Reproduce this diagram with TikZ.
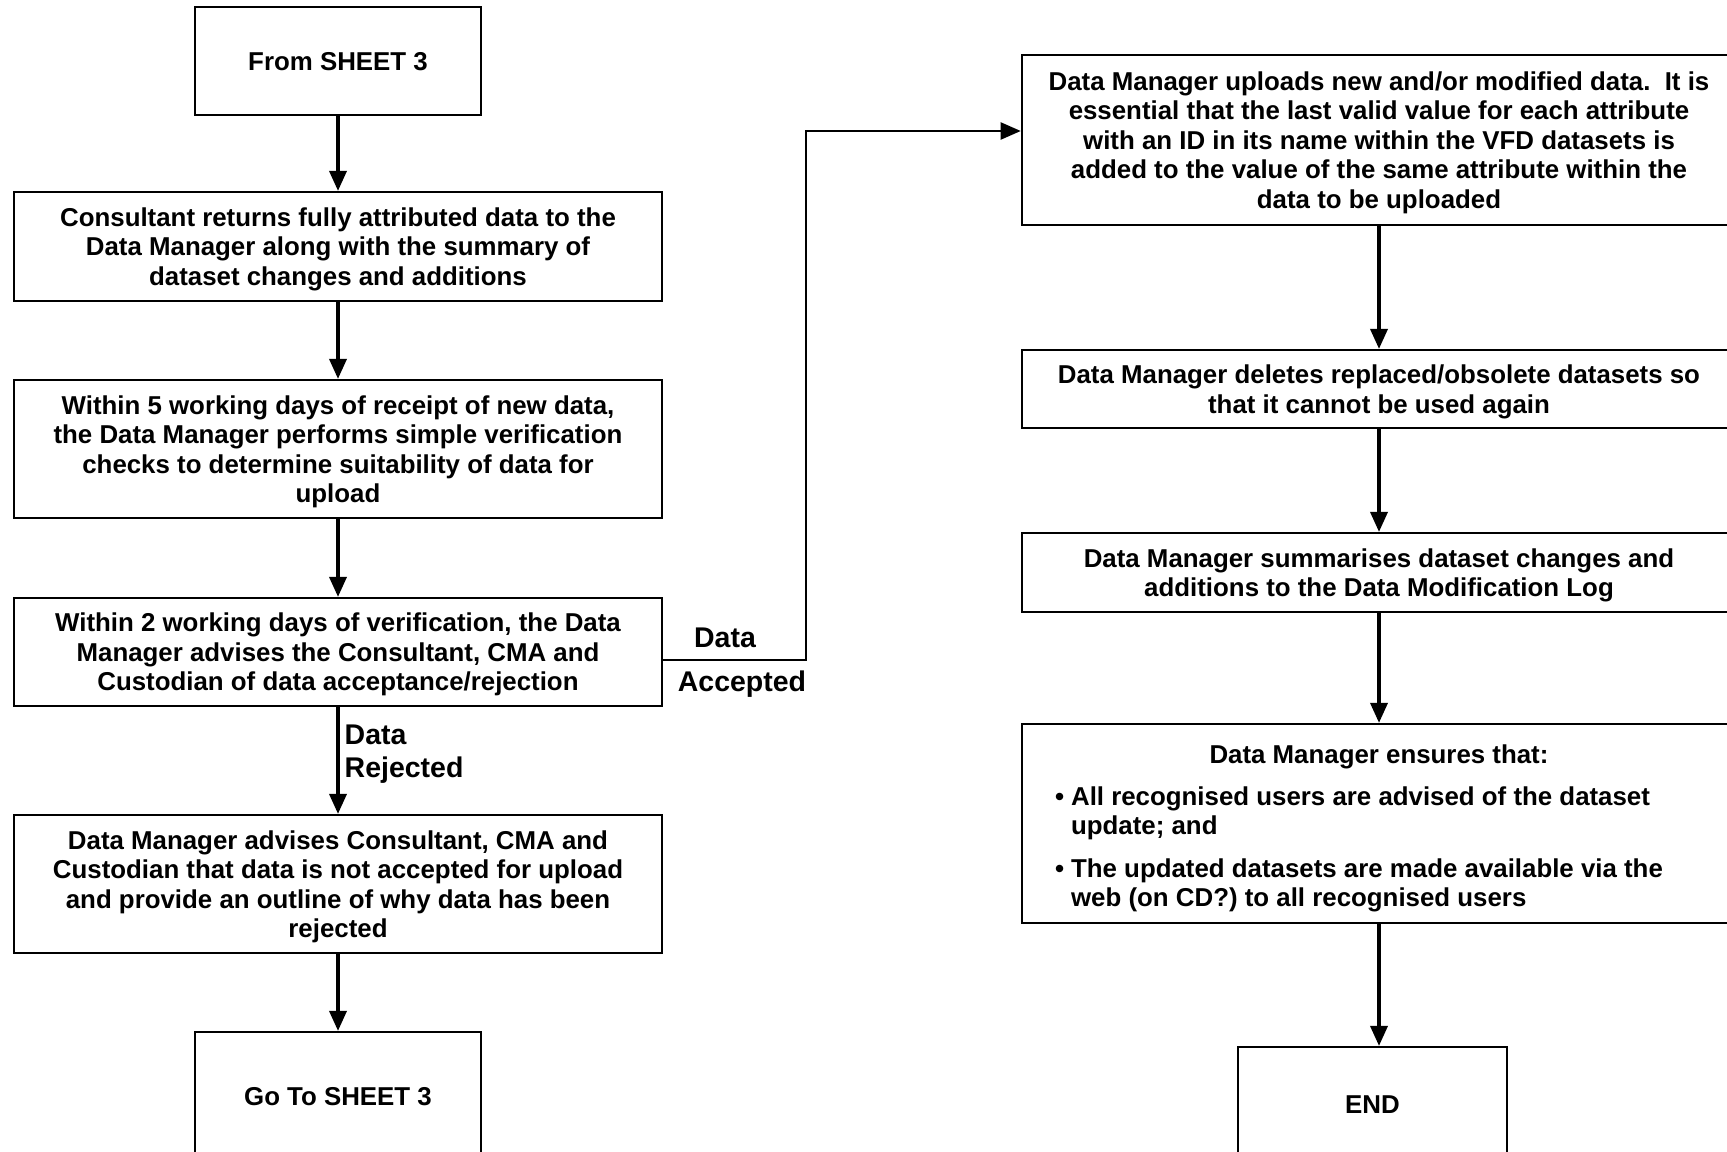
\documentclass[tikz,border=0pt]{standalone}
\usepackage{fontspec}
\setmainfont{Liberation Sans}
\usetikzlibrary{arrows.meta}
\newcommand{\boxstrut}{\rule[-1.55pt]{0pt}{8.4pt}}
\tikzstyle{proc}=[draw, line width=0.6pt, align=center, inner sep=0pt, font=\fontsize{7.35}{8.4}\selectfont\bfseries, execute at begin node=\boxstrut]
\tikzstyle{lproc}=[proc, minimum width=6.48cm, text depth=0pt]
\tikzstyle{rproc}=[proc, minimum width=7.14cm, text depth=0pt]
\tikzstyle{lstproc}=[proc, minimum width=7.14cm]
\tikzstyle{term}=[proc, minimum width=2.86cm]
\tikzstyle{flow}=[line width=1pt, -{Triangle[length=2mm,width=1.7mm]}]
\tikzstyle{branch}=[line width=0.6pt, -{Triangle[length=2mm,width=1.7mm]}]
\tikzstyle{blabel}=[inner sep=0pt, font=\fontsize{8.1}{9.4}\selectfont\bfseries]

\begin{document}
\begin{tikzpicture}[x=0.01cm, y=-0.01cm]
    \useasboundingbox (0,0) rectangle (1727,1152);
        \node[term, minimum height=1.08cm] (from) at (338, 61) {From SHEET 3};
        \node[lproc, minimum height=1.09cm] (consult) at (338, 246.5) {Consultant returns fully attributed data to the\\Data Manager along with the summary of\\dataset changes and additions};
        \node[lproc, minimum height=1.38cm] (verify) at (338, 449) {Within 5 working days of receipt of new data,\\the Data Manager performs simple verification\\checks to determine suitability of data for\\upload};
        \node[lproc, minimum height=1.08cm] (advise) at (338, 652) {Within 2 working days of verification, the Data\\Manager advises the Consultant, CMA and\\Custodian of data acceptance/rejection};
        \node[lproc, minimum height=1.38cm] (reject) at (338, 884) {Data Manager advises Consultant, CMA and\\Custodian that data is not accepted for upload\\and provide an outline of why data has been\\rejected};
        \node[term, minimum height=1.28cm] (goto) at (338, 1096) {Go To SHEET 3};
        \node[rproc, minimum height=1.70cm] (upload) at (1379, 140) {Data Manager uploads new and/or modified data.\ \ It is\\essential that the last valid value for each attribute\\with an ID in its name within the VFD datasets is\\added to the value of the same attribute within the\\data to be uploaded};
        \node[rproc, minimum height=0.78cm] (delete) at (1379, 389) {Data Manager deletes replaced/obsolete datasets so\\that it cannot be used again};
        \node[rproc, minimum height=0.79cm] (summary) at (1379, 572.5) {Data Manager summarises dataset changes and\\additions to the Data Modification Log};
        \node[lstproc, minimum height=1.99cm] (ensure) at (1379, 823.5) {\rule{0pt}{9.1pt}Data Manager ensures that:\\[3.4pt]\begin{tabular}{@{}l@{\hspace{2pt}}l@{}}\textbullet & All recognised users are advised of the dataset\\ & update; and\\[3.7pt]\textbullet & The updated datasets are made available via the\\ & web (on CD?) to all recognised users\end{tabular}\hspace*{0.4cm}};
        \node[term, minimum width=2.69cm, minimum height=1.14cm] (finish) at (1372.5, 1104) {END};
        \node[blabel, anchor=west, align=left] (rejlbl) at (344, 754.5) {Data\\Rejected};
        \node[blabel] (accdata) at (725, 638) {Data};
        \node[blabel] (acclbl) at (742, 684) {Accepted};
        \coordinate (acc) at (806, 131);
        \draw[flow] (from) -- (consult);
        \draw[flow] (consult) -- (verify);
        \draw[flow] (verify) -- (advise);
        \draw[flow] (advise) -- (reject);
        \draw[flow] (reject) -- (goto);
        \draw[branch] ([yshift=-0.08cm]advise.east) -| (acc) -- (acc -| upload.west);
        \draw[flow] (upload) -- (delete);
        \draw[flow] (delete) -- (summary);
        \draw[flow] (summary) -- (ensure);
        \draw[flow] (ensure.south) -- (ensure.south |- finish.north);
    \end{tikzpicture}
\end{document}
